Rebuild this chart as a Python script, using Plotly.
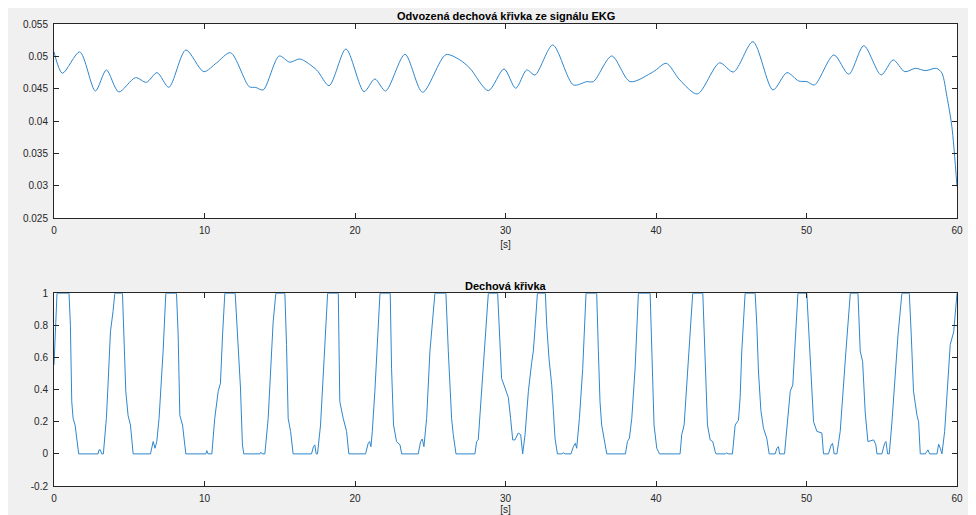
import plotly.graph_objects as go
from plotly.subplots import make_subplots

# ---- data: derived respiration curve from ECG (top) ----
t_ecg = [0, 0.56, 1.71, 2.75, 3.48, 4.30, 5.41, 6.14, 6.85, 7.63, 8.76, 9.95, 10.80, 11.73,
         12.97, 13.41, 13.90, 14.96, 15.67, 16.34, 17.45, 18.28, 19.40, 20.60, 21.32, 22.03,
         23.32, 24.49, 26.04, 26.97, 27.64, 28.86, 29.90, 30.68, 31.41, 31.96, 33.14, 34.51,
         35.40, 35.84, 37.06, 38.28, 39.83, 40.68, 41.58, 42.75, 44.22, 45.15, 46.44, 47.77,
         48.70, 49.48, 50.03, 50.53, 51.82, 52.81, 53.81, 54.96, 55.76, 56.53, 57.24, 57.90,
         58.64, 59.0, 59.33, 59.66, 60.0]
v_ecg = [0.0507, 0.0474, 0.0507, 0.04466, 0.0479, 0.04451, 0.04672, 0.0460, 0.04749, 0.04523,
         0.05099, 0.04764, 0.0490, 0.05057, 0.04533, 0.0452, 0.04482, 0.05006, 0.0491, 0.0496,
         0.0479, 0.04548, 0.05114, 0.04456, 0.04651, 0.04466, 0.05032, 0.04446, 0.05026, 0.04945,
         0.04816, 0.04471, 0.04806, 0.04507, 0.0479, 0.04713, 0.05176, 0.04559, 0.0461, 0.0461,
         0.05006, 0.0461, 0.04764, 0.04893, 0.04636, 0.0442, 0.0490, 0.04759, 0.05227, 0.04482,
         0.04749, 0.0462, 0.0461, 0.04559, 0.05022, 0.04724, 0.05165, 0.04713, 0.04945, 0.04764,
         0.04816, 0.0478, 0.04816, 0.0474, 0.0438, 0.03915, 0.0299]

# ---- data: respiration curve (bottom) ----
t_resp = [0, 0.20, 1.00, 1.09, 1.18, 1.27, 1.40, 1.64, 2.93, 2.99, 3.08, 3.17, 3.28, 3.48, 3.59,
          3.75, 3.92, 4.04, 4.55, 4.64, 4.77, 4.92, 5.08, 5.26, 6.41, 6.59, 6.71, 6.83, 6.98,
          7.25, 7.43, 8.14, 8.25, 8.36, 8.54, 8.76, 10.09, 10.15, 10.24, 10.49, 10.68, 10.91,
          11.06, 11.20, 11.35, 12.04, 12.24, 12.39, 12.52, 12.61, 13.68, 13.74, 13.83, 14.01,
          14.23, 14.45, 14.56, 14.74, 15.34, 15.45, 15.56, 15.72, 15.89, 17.11, 17.24, 17.33,
          17.42, 17.51, 17.71, 17.95, 18.18, 18.89, 18.99, 19.22, 19.44, 19.59, 20.70, 20.88,
          20.97, 21.06, 21.15, 21.32, 21.50, 21.66, 22.34, 22.43, 22.56, 22.76, 22.99, 23.10,
          24.20, 24.36, 24.47, 24.58, 24.76, 24.98, 25.31, 26.04, 26.20, 26.42, 26.53, 26.71,
          27.97, 28.08, 28.19, 28.46, 28.68, 28.86, 29.48, 29.63, 29.74, 29.97, 30.19, 30.34,
          30.48, 30.63, 30.85, 31.01, 31.14, 31.30, 31.52, 31.74, 31.85, 31.96, 32.12, 32.65,
          32.74, 32.89, 33.07, 33.18, 33.29, 33.45, 33.73, 33.85, 33.95, 34.35, 34.51, 34.64,
          34.73, 34.91, 35.13, 35.35, 36.06, 36.17, 36.28, 36.39, 36.55, 36.73, 37.97, 38.10,
          38.23, 38.39, 38.61, 38.83, 39.61, 39.72, 39.87, 40.05, 40.23, 41.60, 41.71, 41.87,
          42.05, 42.27, 42.44, 43.11, 43.26, 43.42, 43.60, 43.77, 43.93, 43.99, 44.60, 44.70,
          44.80, 45.08, 45.26, 45.37, 45.48, 45.59, 45.70, 45.92, 46.59, 46.70, 46.81, 46.97,
          47.14, 47.36, 47.52, 47.92, 48.03, 48.14, 48.21, 48.54, 48.69, 48.92, 49.09, 49.20,
          49.43, 50.02, 50.18, 50.31, 50.47, 50.69, 51.02, 51.13, 51.46, 51.64, 51.73, 51.84,
          52.02, 52.24, 52.46, 52.62, 52.91, 53.42, 53.57, 53.73, 53.90, 54.08, 54.46, 54.61,
          54.68, 55.01, 55.19, 55.28, 55.39, 55.50, 55.68, 55.90, 56.08, 56.34, 56.83, 56.96,
          57.11, 57.34, 57.45, 57.56, 57.89, 58.07, 58.18, 58.67, 58.78, 58.89, 59.00, 59.18,
          59.40, 59.55, 59.78, 59.95, 60.0]
v_resp = [0.554, 1, 1, 0.80, 0.325, 0.22, 0.18, 0, 0, 0.025, 0.025, 0, 0, 0.22, 0.43,
          0.76, 0.886, 1, 1, 0.74, 0.39, 0.24, 0.18, 0, 0, 0.077, 0.035, 0.077, 0.22,
          0.64, 1, 1, 0.74, 0.24, 0.18, 0, 0, 0.02, 0, 0, 0.22, 0.39,
          0.44, 0.74, 1, 1, 0.64, 0.41, 0.056, 0, 0, 0.01, 0, 0,
          0.22, 0.64, 0.82, 1, 1, 0.68, 0.22, 0.14, 0, 0, 0.045, 0.056,
          0, 0, 0.18, 0.595, 1, 1, 0.325, 0.22, 0.14, 0, 0, 0.066,
          0.077, 0.045, 0.14, 0.39, 0.74, 1, 1, 0.53, 0.18, 0.077, 0.056, 0,
          0, 0.077, 0.093, 0.045, 0.22, 0.64, 1, 1, 0.64, 0.22, 0.12, 0,
          0, 0.077, 0.087, 0.43, 0.74, 1, 1, 0.64, 0.47, 0.41, 0.35, 0.22,
          0.087, 0.087, 0.13, 0.12, 0, 0.12, 0.39, 0.57, 0.64, 0.78, 1, 1,
          0.80, 0.595, 0.43, 0.27, 0.097, 0, 0, 0.006, 0, 0, 0.045, 0.066,
          0.035, 0.22, 0.53, 1, 1, 0.64, 0.325, 0.18, 0.097, 0, 0, 0.077,
          0.097, 0.22, 0.53, 1, 1, 0.64, 0.18, 0.035, 0, 0, 0.12, 0.18,
          0.43, 0.74, 1, 1, 0.64, 0.18, 0.087, 0.077, 0.015, 0, 0, 0.006,
          0, 0, 0.18, 0.20, 0.21, 0.35, 0.64, 1, 1, 0.80, 0.51, 0.27,
          0.16, 0.097, 0, 0, 0.035, 0.045, 0, 0, 0.14, 0.39, 0.43, 0.64,
          1, 1, 0.74, 0.53, 0.20, 0.14, 0.13, 0, 0, 0.056, 0.066, 0,
          0, 0.14, 0.45, 0.64, 1, 1, 0.64, 0.575, 0.26, 0.077, 0.087, 0.056,
          0, 0, 0.066, 0.077, 0, 0, 0.20, 0.53, 0.74, 1, 1, 0.74,
          0.39, 0.24, 0.20, 0, 0, 0.025, 0, 0, 0.06, 0.035, 0, 0.14,
          0.43, 0.68, 0.76, 1, 1]

x_ticks = [0, 10, 20, 30, 40, 50, 60]
y1_ticks = [0.025, 0.03, 0.035, 0.04, 0.045, 0.05, 0.055]
y1_labels = ["0.025", "0.03", "0.035", "0.04", "0.045", "0.05", "0.055"]
y2_ticks = [-0.2, 0, 0.2, 0.4, 0.6, 0.8, 1]
y2_labels = ["-0.2", "0", "0.2", "0.4", "0.6", "0.8", "1"]

title_top = "Odvozená dechová křivka ze signálu EKG"
title_bottom = "Dechová křivka"
x_label = "[s]"

# the page body adds an 8px margin, so the figure starts at (8, 8) in the window
W, H = 964, 507
ML, MR, MT, MB = 46, 15, 16, 29
PH = H - MT - MB

def py2paper(py):
    return (H - MB - py) / PH

fig = make_subplots(rows=2, cols=1)
line_col = "#2f86cc"
fig.add_trace(go.Scatter(x=t_ecg, y=v_ecg, mode="lines",
                         line=dict(color=line_col, width=1, shape="spline", smoothing=0.8),
                         showlegend=False, hoverinfo="skip"), row=1, col=1)
fig.add_trace(go.Scatter(x=t_resp, y=v_resp, mode="lines", line=dict(color=line_col, width=1),
                         showlegend=False, hoverinfo="skip"), row=2, col=1)

axis_col = "#262626"
tick_font = dict(family="Liberation Sans, Arial, sans-serif", size=10, color="#262626")
common = dict(showline=True, linecolor=axis_col, linewidth=1, mirror="ticks", ticks="inside",
              ticklen=5, tickcolor=axis_col, showgrid=False, zeroline=False, tickfont=tick_font,
              ticklabelstandoff=3)

fig.update_xaxes(range=[0, 60], tickvals=x_ticks, ticktext=[str(v) for v in x_ticks], domain=[0, 1], **common)
fig.update_yaxes(range=[0.025, 0.055], tickvals=y1_ticks, ticktext=y1_labels,
                 domain=[py2paper(210.3), 1.0], row=1, col=1, **common)
fig.update_yaxes(range=[-0.2, 1], tickvals=y2_ticks, ticktext=y2_labels,
                 domain=[0, py2paper(285.3)], row=2, col=1, **common)
fig.update_xaxes(title=dict(text=x_label, font=tick_font, standoff=5), row=1, col=1)
fig.update_xaxes(title=dict(text=x_label, font=tick_font, standoff=5), row=2, col=1)

title_font = dict(family="Liberation Sans, Arial, sans-serif", size=11, color="#000000")
fig.add_annotation(text="<b>" + title_top + "</b>", xref="paper", yref="paper", x=0.5, y=py2paper(8),
                   showarrow=False, font=title_font, xanchor="center", yanchor="middle")
fig.add_annotation(text="<b>" + title_bottom + "</b>", xref="paper", yref="paper", x=0.5, y=py2paper(278),
                   showarrow=False, font=title_font, xanchor="center", yanchor="middle")

fig.update_layout(width=W, height=H, margin=dict(l=ML, r=MR, t=MT, b=MB, autoexpand=False),
                  paper_bgcolor="#f0f0f0", plot_bgcolor="white", showlegend=False)

fig.write_html("out.html")
